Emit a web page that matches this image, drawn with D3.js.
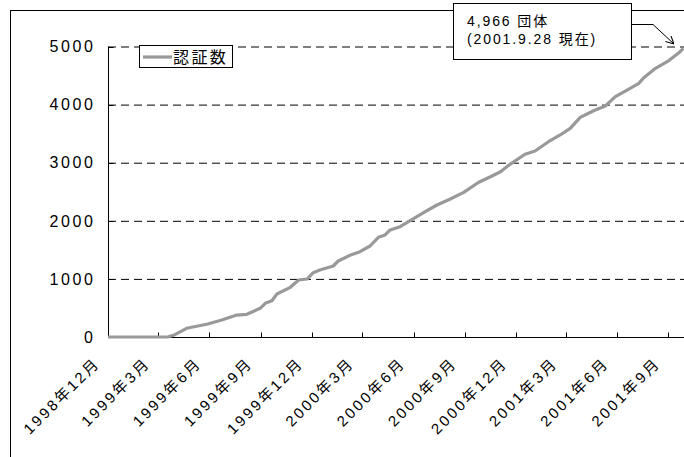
<!DOCTYPE html>
<html>
<head>
<meta charset="utf-8">
<script src="https://cdn.jsdelivr.net/npm/d3@7"></script>
<style>
body { margin: 0; background: #fff; }
svg text { font-family: "Liberation Sans", "Noto Sans CJK JP", sans-serif; fill: #000; }
.grid line { stroke: #000; stroke-dasharray: 8,5; }
.grid path { stroke: none; }
</style>
</head>
<body>
<script>
// cumulative number of certified organisations
var dates = ["1998-12-01","1999-03-18","1999-03-31","1999-04-21","1999-05-29","1999-06-23","1999-07-20",
  "1999-08-07","1999-08-31","1999-09-09","1999-09-21","1999-09-30","1999-10-24","1999-11-08","1999-11-23",
  "1999-12-04","1999-12-16","2000-01-09","2000-01-18","2000-02-08","2000-02-26","2000-03-15","2000-03-30",
  "2000-04-11","2000-04-20","2000-05-08","2000-05-26","2000-06-19","2000-07-13","2000-08-06","2000-08-30",
  "2000-09-26","2000-10-17","2000-11-04","2000-11-21","2000-12-18","2001-01-05","2001-01-29","2001-02-19",
  "2001-03-09","2001-03-27","2001-04-20","2001-05-11","2001-05-29","2001-06-19","2001-07-10","2001-07-19",
  "2001-08-09","2001-08-30","2001-09-20","2001-09-28"];
var counts = [0,0,40,150,224,292,378,391,494,580,625,740,855,981,998,1107,1153,1222,1308,1406,1468,1566,1716,
  1756,1842,1899,2002,2139,2272,2375,2490,2663,2759,2845,2972,3145,3201,3361,3477,3592,3781,3895,3976,4136,
  4251,4366,4463,4625,4738,4893,4966];
var tickDates = ["1998-12-01","1999-03-01","1999-06-01","1999-09-01","1999-12-01","2000-03-01","2000-06-01",
  "2000-09-01","2000-12-01","2001-03-01","2001-06-01","2001-09-01"];
var tickLabels = ["1998年12月","1999年3月","1999年6月","1999年9月","1999年12月","2000年3月","2000年6月",
  "2000年9月","2000年12月","2001年3月","2001年6月","2001年9月"];
var yTicks = [0,1000,2000,3000,4000,5000];
var seriesName = "認証数";
var noteLines = ["4,966 団体","(2001.9.28 現在)"];

var parse = d3.timeParse("%Y-%m-%d");
var data = dates.map(function(d,i){ return {date: parse(d), value: counts[i]}; });

var W = 684, H = 457;

var svg = d3.select("body").append("svg")
    .attr("width", W).attr("height", H);

// outer frame of the chart object
svg.append("rect")
    .attr("x", 10.5).attr("y", 10.5)
    .attr("width", 720).attr("height", 500)
    .attr("fill", "none").attr("stroke", "#000");

var x = d3.scaleTime()
    .domain([parse("1998-12-01"), parse("2001-09-30")])
    .range([108, 684.5]);
var y = d3.scaleLinear().domain([0,5000]).range([337, 46.5]);

// dashed grid lines
svg.append("g")
    .attr("class", "grid")
    .attr("transform", "translate(108,0)")
    .call(d3.axisRight(y).tickValues(yTicks.slice(1)).tickSize(W - 108).tickFormat(""));

// y axis (ticks point inward)
var yAx = svg.append("g").attr("transform", "translate(108.5,0)");
yAx.append("line").attr("x1",0).attr("x2",0).attr("y1",y(5000)).attr("y2",y(0)).attr("stroke","#000");
yAx.selectAll(".yt").data(yTicks).enter().append("line")
    .attr("x1",0).attr("x2",5).attr("y1",function(d){ return Math.round(y(d))+0.5; })
    .attr("y2",function(d){ return Math.round(y(d))+0.5; }).attr("stroke","#000");
svg.selectAll(".ylab").data(yTicks).enter().append("text")
    .attr("x", 95.5).attr("y", function(d){ return y(d); })
    .attr("dy", "0.36em")
    .attr("text-anchor", "end")
    .style("font-size", "16px").style("letter-spacing", "2.6px")
    .text(function(d){ return d; });

// x axis with upward ticks
var xAx = svg.append("g").attr("transform", "translate(0,337.5)");
xAx.append("line").attr("x1",108).attr("x2",W).attr("y1",0).attr("y2",0).attr("stroke","#000");
xAx.selectAll(".xt").data(tickDates).enter().append("line")
    .attr("x1", function(d){ return Math.round(x(parse(d)))+0.5; })
    .attr("x2", function(d){ return Math.round(x(parse(d)))+0.5; })
    .attr("y1", 0).attr("y2", -5).attr("stroke","#000");
svg.selectAll(".xlab").data(tickDates).enter().append("text")
    .attr("transform", function(d){ return "translate(" + (x(parse(d)) - 7) + ",364) rotate(-45)"; })
    .attr("text-anchor", "end")
    .style("font-size", "15px").style("letter-spacing", "2.6px")
    .text(function(d,i){ return tickLabels[i]; });

// the series line
var line = d3.line()
    .x(function(d){ return x(d.date); })
    .y(function(d){ return y(d.value); });
svg.append("path")
    .datum(data)
    .attr("d", line)
    .attr("fill", "none")
    .attr("stroke", "#999")
    .attr("stroke-width", 3.2)
    .attr("stroke-linejoin", "round");

// legend
var lg = svg.append("g");
lg.append("rect").attr("x", 139.5).attr("y", 45.5).attr("width", 93).attr("height", 22)
    .attr("fill", "#fff").attr("stroke", "#000");
lg.append("line").attr("x1", 143).attr("x2", 172).attr("y1", 57).attr("y2", 57)
    .attr("stroke", "#999").attr("stroke-width", 3.2);
lg.append("text").attr("x", 173).attr("y", 62.5)
    .style("font-size", "16px").style("letter-spacing", "2.4px")
    .text(seriesName);

// call-out box with arrow
svg.append("rect").attr("x", 453.5).attr("y", 3.5).attr("width", 178).attr("height", 56)
    .attr("fill", "#fff").attr("stroke", "#000");
svg.selectAll(".note").data(noteLines).enter().append("text")
    .attr("x", 467).attr("y", function(d,i){ return 26 + i*18; })
    .style("font-size", "14px").style("letter-spacing", "1.9px")
    .text(function(d){ return d; });
svg.append("defs").append("marker")
    .attr("id", "arr").attr("viewBox", "0 0 10 10").attr("refX", 10).attr("refY", 5)
    .attr("markerWidth", 8).attr("markerHeight", 8).attr("orient", "auto")
    .append("path").attr("d", "M0,0 L10,5 L0,10").attr("fill", "none").attr("stroke", "#000").attr("stroke-width", 1.3);
svg.append("polyline")
    .attr("points", "632,24.5 653,24.5 674,44")
    .attr("fill", "none").attr("stroke", "#000")
    .attr("marker-end", "url(#arr)");
</script>
</body>
</html>
